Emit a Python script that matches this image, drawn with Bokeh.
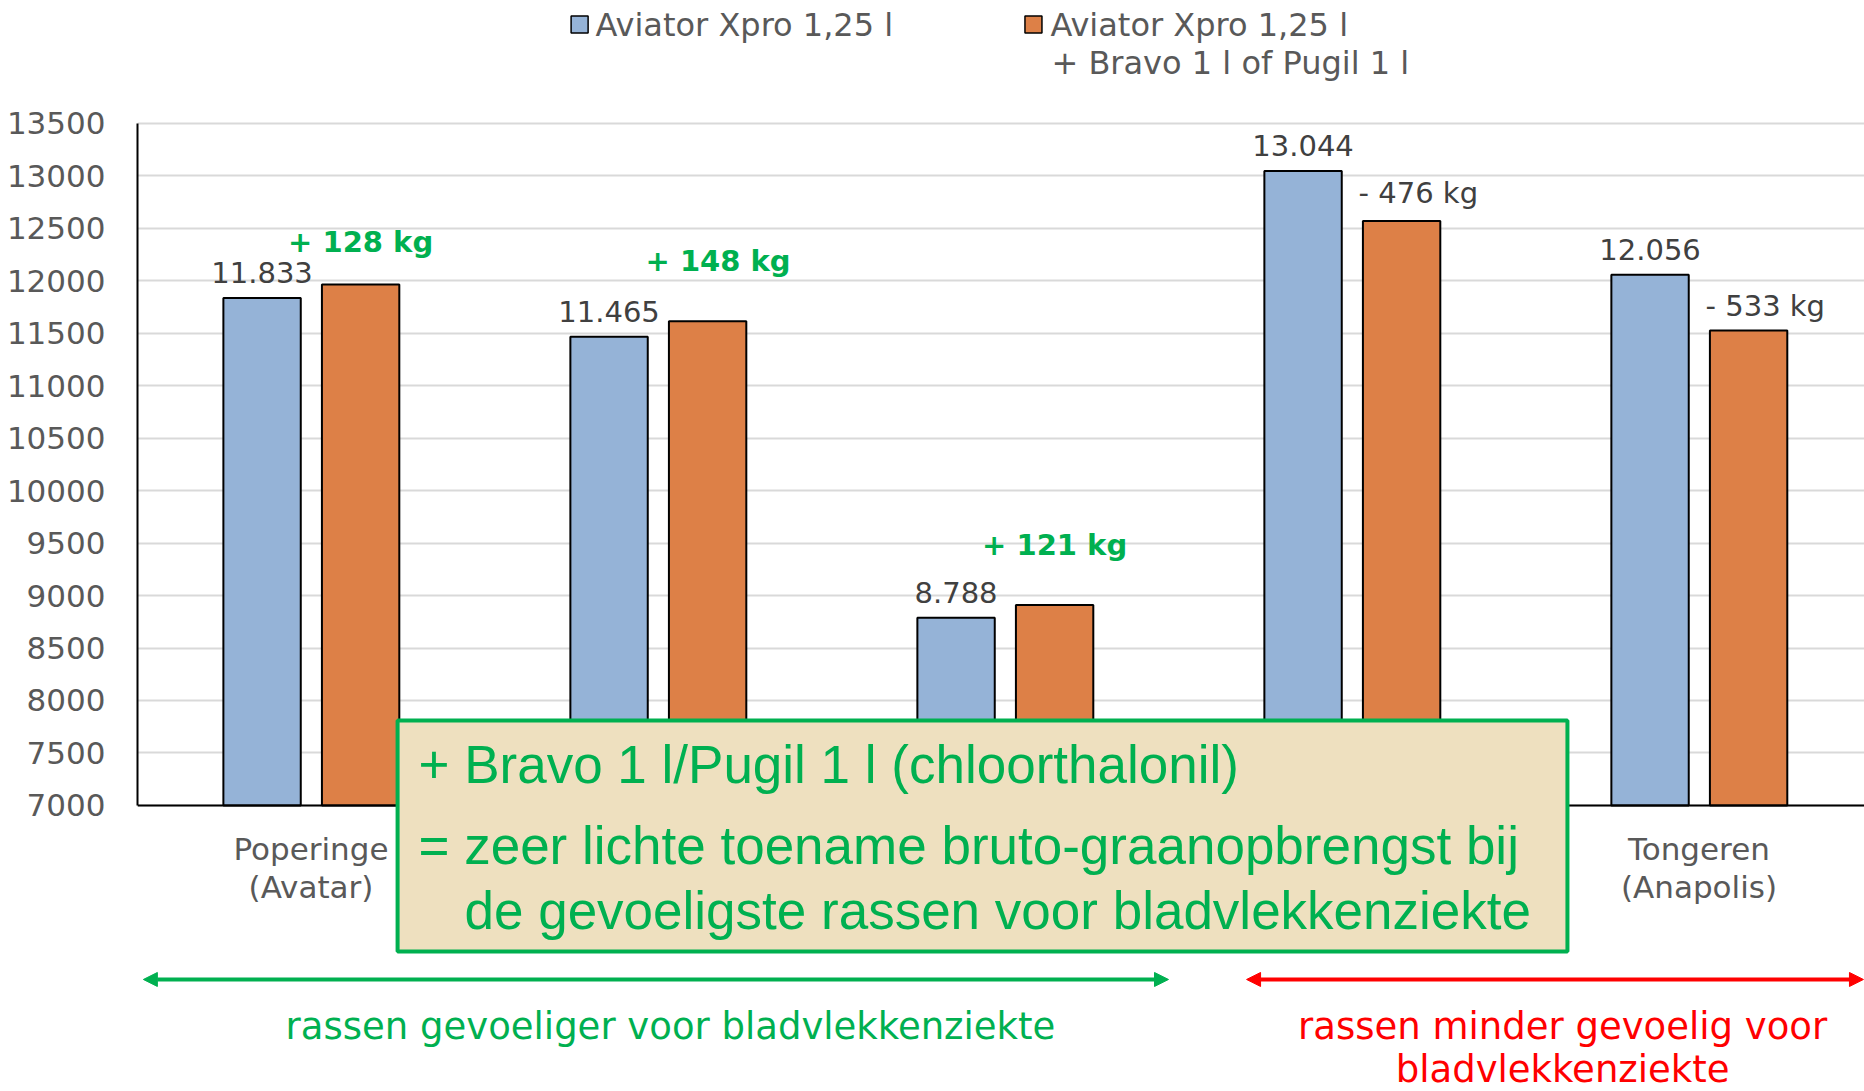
from bokeh.plotting import figure
from bokeh.models import Range1d, FixedTicker, Arrow, NormalHead
from bokeh.core.properties import value
from bokeh.embed import file_html
from bokeh.resources import INLINE

# ---------------- data ----------------
categories = ["Poperinge\n(Avatar)", "", "", "", "Tongeren\n(Anapolis)"]
series_1 = "Aviator Xpro 1,25 l"
series_2_lines = ["Aviator Xpro 1,25 l", "+ Bravo 1 l of Pugil 1 l"]
aviator = [11833, 11465, 8788, 13044, 12056]
diff_kg = [128, 148, 121, -476, -533]
combo = [a + d for a, d in zip(aviator, diff_kg)]
y_ticks = [7000, 7500, 8000, 8500, 9000, 9500, 10000, 10500, 11000, 11500,
           12000, 12500, 13000, 13500]
box_lines = ["+ Bravo 1 l/Pugil 1 l (chloorthalonil)",
             "= zeer lichte toename bruto-graanopbrengst bij",
             "de gevoeligste rassen voor bladvlekkenziekte"]
green_note = "rassen gevoeliger voor bladvlekkenziekte"
red_note = ["rassen minder gevoelig voor", "bladvlekkenziekte"]

# ---------------- style ----------------
BLUE = "#95B3D7"
ORANGE = "#DD8047"
GREEN = "#00B050"
RED = "#FF0000"
GREY = "#595959"
DARK = "#404040"
SANS = value("DejaVu Sans")
ARIAL = value("Liberation Sans")
OFF_B, OFF_O, BAR_W = -0.141, 0.143, 0.223
LABEL_GAP = 240
ANNOT_DX = [0.0, 0.03, 0.0, -0.124, -0.124]
ANNOT_DY = [407, 573, 571, 264, 233]
X_END = 4.977
D = 345.4 / 347.0   # decoration x scale


def dx(v):
    return v * D


W, H = 1864, 1091
p = figure(width=W, height=H, output_backend="svg", toolbar_location=None,
           x_range=Range1d(0, X_END), y_range=Range1d(4276, 14667),
           min_border_left=137, min_border_right=0, min_border_top=0,
           min_border_bottom=0)
p.outline_line_color = None
p.background_fill_color = "white"

# axes
p.yaxis.ticker = FixedTicker(ticks=y_ticks)
p.yaxis.bounds = (y_ticks[0], y_ticks[-1])
p.yaxis.axis_line_color = "black"
p.yaxis.axis_line_width = 2
p.yaxis.major_tick_line_color = None
p.yaxis.minor_tick_line_color = None
p.yaxis.major_tick_out = 0
p.yaxis.major_label_standoff = 32
p.yaxis.major_label_text_font = "DejaVu Sans"
p.yaxis.major_label_text_font_size = "31px"
p.yaxis.major_label_text_color = GREY

xt = [i + 0.5 for i in range(len(categories))]
p.xaxis.ticker = FixedTicker(ticks=xt)
p.xaxis.major_label_overrides = {t: c for t, c in zip(xt, categories)}
p.xaxis.fixed_location = y_ticks[0]
p.xaxis.axis_line_color = "black"
p.xaxis.axis_line_width = 2
p.xaxis.major_tick_line_color = None
p.xaxis.minor_tick_line_color = None
p.xaxis.major_tick_out = 0
p.xaxis.major_label_standoff = 26
p.xaxis.major_label_text_font = "DejaVu Sans"
p.xaxis.major_label_text_font_size = "31px"
p.xaxis.major_label_text_line_height = 1.05
p.xaxis.major_label_text_color = GREY

p.xgrid.visible = False
p.ygrid.ticker = FixedTicker(ticks=y_ticks)
p.ygrid.grid_line_color = "#D9D9D9"
p.ygrid.grid_line_width = 2

# bars
xb = [c + OFF_B for c in xt]
xo = [c + OFF_O for c in xt]
p.vbar(x=xb, top=aviator, bottom=y_ticks[0], width=BAR_W, fill_color=BLUE,
       line_color="black", line_width=2)
p.vbar(x=xo, top=combo, bottom=y_ticks[0], width=BAR_W, fill_color=ORANGE,
       line_color="black", line_width=2)

# value labels
p.text(x=xb, y=[v + LABEL_GAP for v in aviator],
       text=[f"{v:,}".replace(",", ".") for v in aviator],
       text_align="center", text_baseline="middle", text_font=SANS,
       text_font_size=value("29px"), text_color=DARK)

# difference annotations
for i, d in enumerate(diff_kg):
    if d > 0:
        p.text(x=[xo[i] + ANNOT_DX[i]], y=[combo[i] + ANNOT_DY[i]],
               text=[f"+ {d} kg"], text_align="center", text_baseline="middle",
               text_font=SANS, text_font_size=value("29px"),
               text_font_style="bold", text_color=GREEN)
    else:
        p.text(x=[xo[i] + ANNOT_DX[i]], y=[combo[i] + ANNOT_DY[i]],
               text=[f"- {abs(d)} kg"], text_align="left", text_baseline="middle",
               text_font=SANS, text_font_size=value("29px"), text_color=DARK)

# legend (manual)
p.scatter(x=[dx(1.280)], y=[14438], marker="square", size=17, fill_color=BLUE,
          line_color="black", line_width=1.5)
p.text(x=[dx(1.326)], y=[14438], text=[series_1], text_baseline="middle",
       text_font=SANS, text_font_size=value("32px"), text_color=GREY)
p.scatter(x=[dx(2.594)], y=[14438], marker="square", size=17, fill_color=ORANGE,
          line_color="black", line_width=1.5)
p.text(x=[dx(2.643), dx(2.646)], y=[14438, 14067], text=series_2_lines,
       text_baseline="middle", text_font=SANS, text_font_size=value("32px"),
       text_color=GREY)

# green box on top
box = p.quad(left=[dx(0.753)], right=[dx(4.140)], top=[7810], bottom=[5609],
             fill_color="#EEE0BF", line_color=GREEN, line_width=4)
box.level = "overlay"
bt = p.text(x=[dx(0.8135), dx(0.8135), dx(0.9467)], y=[7390, 6619, 6000],
            text=box_lines, text_baseline="middle", text_align="left",
            text_font=ARIAL, text_font_size=value("53px"), text_color=GREEN)
bt.level = "overlay"

# arrows
p.add_layout(Arrow(start=NormalHead(size=14, fill_color=GREEN, line_color=GREEN),
                   end=NormalHead(size=14, fill_color=GREEN, line_color=GREEN),
                   x_start=dx(0.017), y_start=5343, x_end=dx(2.985), y_end=5343,
                   line_color=GREEN, line_width=4))
p.add_layout(Arrow(start=NormalHead(size=14, fill_color=RED, line_color=RED),
                   end=NormalHead(size=14, fill_color=RED, line_color=RED),
                   x_start=dx(3.211), y_start=5343, x_end=X_END - 0.003, y_end=5343,
                   line_color=RED, line_width=4))

# notes under arrows
p.text(x=[dx(1.543)], y=[4895], text=[green_note], text_align="center",
       text_baseline="middle", text_font=SANS, text_font_size=value("37px"),
       text_color=GREEN)
p.text(x=[dx(4.126), dx(4.126)], y=[4895, 4485], text=red_note, text_align="center",
       text_baseline="middle", text_font=SANS, text_font_size=value("37px"),
       text_color=RED)

open("out.html", "w").write(file_html(p, INLINE))
